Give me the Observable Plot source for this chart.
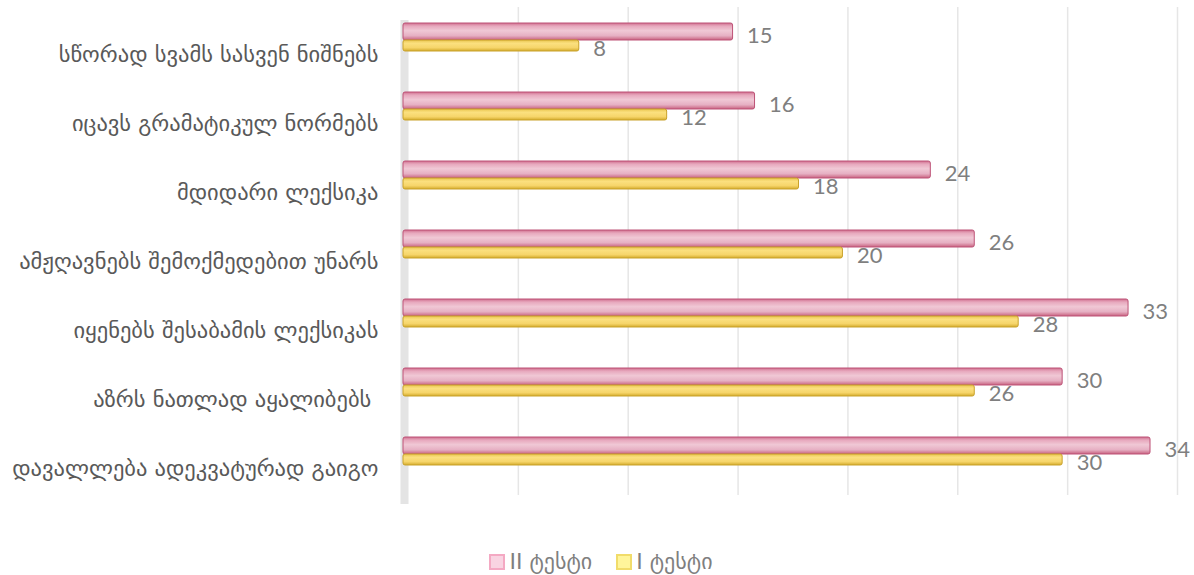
<!DOCTYPE html>
<html>
<head>
<meta charset="utf-8">
<script src="https://cdn.jsdelivr.net/npm/d3@7"></script>
<script src="https://cdn.jsdelivr.net/npm/@observablehq/plot@0.6"></script>
<style>
  body { margin: 0; background: #fff; font-family: "DejaVu Sans", sans-serif; }
  #legend { display: flex; justify-content: center; gap: 24px; margin-top: 19px; padding-left: 8px; color: #7f7f7f; font-size: 22px; }
  #legend span.item { display: inline-flex; align-items: center; }
  #legend span.sw { display: inline-block; width: 12px; height: 12px; margin-right: 4px; border: 2px solid; }
</style>
</head>
<body>
<div id="chart"></div>
<div id="legend"></div>
<script>
const categories = [
  "სწორად სვამს სასვენ ნიშნებს",
  "იცავს გრამატიკულ ნორმებს",
  "მდიდარი ლექსიკა",
  "ამჟღავნებს შემოქმედებით უნარს",
  "იყენებს შესაბამის ლექსიკას",
  "აზრს ნათლად აყალიბებს ",
  "დავალლება ადეკვატურად გაიგო"
];
const seriesNames = ["II ტესტი", "I ტესტი"];
const test2 = [15, 16, 24, 26, 33, 30, 34];
const test1 = [8, 12, 18, 20, 28, 26, 30];
const gridTicks = [5, 10, 15, 20, 25, 30, 35];

const rows2 = categories.map((c, i) => ({category: c, value: test2[i]}));
const rows1 = categories.map((c, i) => ({category: c, value: test1[i]}));

const numFont = "Lato, 'DejaVu Sans', sans-serif";

const chart = Plot.plot({
  width: 1194,
  height: 530,
  marginLeft: 403,
  marginRight: 22,
  marginTop: 7,
  marginBottom: 30,
  x: {domain: [0, 35], axis: null},
  y: {domain: categories, range: [0, 489], padding: 0, label: null},
  marks: [
    Plot.ruleX(gridTicks, {x: d => d, dx: 5, stroke: "#e6e6e6", strokeWidth: 1.5, insetBottom: 5}),
    Plot.ruleX([0], {dx: 1, stroke: "#e4e4e4", strokeWidth: 8, insetTop: 13, insetBottom: -4}),
    Plot.axisY({tickSize: 0, tickPadding: 25, dy: 17, fontSize: 22.5, fill: "#595959", fontFamily: "'DejaVu Sans', sans-serif", textAnchor: "end"}),
    Plot.barX(rows2, {x: "value", y: "category", insetTop: 20, insetBottom: 32, fill: "url(#gPink)", stroke: "#bd5276", strokeWidth: 1, rx: 2}),
    Plot.barX(rows1, {x: "value", y: "category", insetTop: 37, insetBottom: 21, fill: "url(#gYellow)", stroke: "#c9a22a", strokeWidth: 1, rx: 2}),
    Plot.text(rows2, {x: "value", y: "category", text: d => String(d.value), dx: 14, dy: -2, textAnchor: "start", fontSize: 22, fill: "#7f7f7f", fontFamily: numFont}),
    Plot.text(rows1, {x: "value", y: "category", text: d => String(d.value), dx: 14, dy: 11, textAnchor: "start", fontSize: 22, fill: "#7f7f7f", fontFamily: numFont})
  ]
});

// gradient defs for cylinder-like bars
const ns = "http://www.w3.org/2000/svg";
const defs = document.createElementNS(ns, "defs");
function grad(id, stops) {
  const g = document.createElementNS(ns, "linearGradient");
  g.setAttribute("id", id);
  g.setAttribute("x1", "0"); g.setAttribute("y1", "0");
  g.setAttribute("x2", "0"); g.setAttribute("y2", "1");
  stops.forEach(([o, c]) => {
    const s = document.createElementNS(ns, "stop");
    s.setAttribute("offset", o); s.setAttribute("stop-color", c);
    g.appendChild(s);
  });
  defs.appendChild(g);
}
grad("gPink", [[0, "#cf6e8e"], [0.18, "#e7a8bd"], [0.45, "#f0c8d5"], [0.75, "#e6b0c3"], [1, "#c8617f"]]);
grad("gYellow", [[0, "#e9c54e"], [0.3, "#fbe07f"], [0.7, "#f6d56a"], [1, "#d4ab2c"]]);
chart.insertBefore(defs, chart.firstChild);
document.getElementById("chart").appendChild(chart);

const legend = document.getElementById("legend");
const swatches = [["#f9d4e2", "#f4a9c3"], ["#fff59a", "#f1dc6a"]];
seriesNames.forEach((name, i) => {
  const item = document.createElement("span");
  item.className = "item";
  const sw = document.createElement("span");
  sw.className = "sw";
  sw.style.background = swatches[i][0];
  sw.style.borderColor = swatches[i][1];
  item.appendChild(sw);
  item.appendChild(document.createTextNode(name));
  legend.appendChild(item);
});
</script>
</body>
</html>
